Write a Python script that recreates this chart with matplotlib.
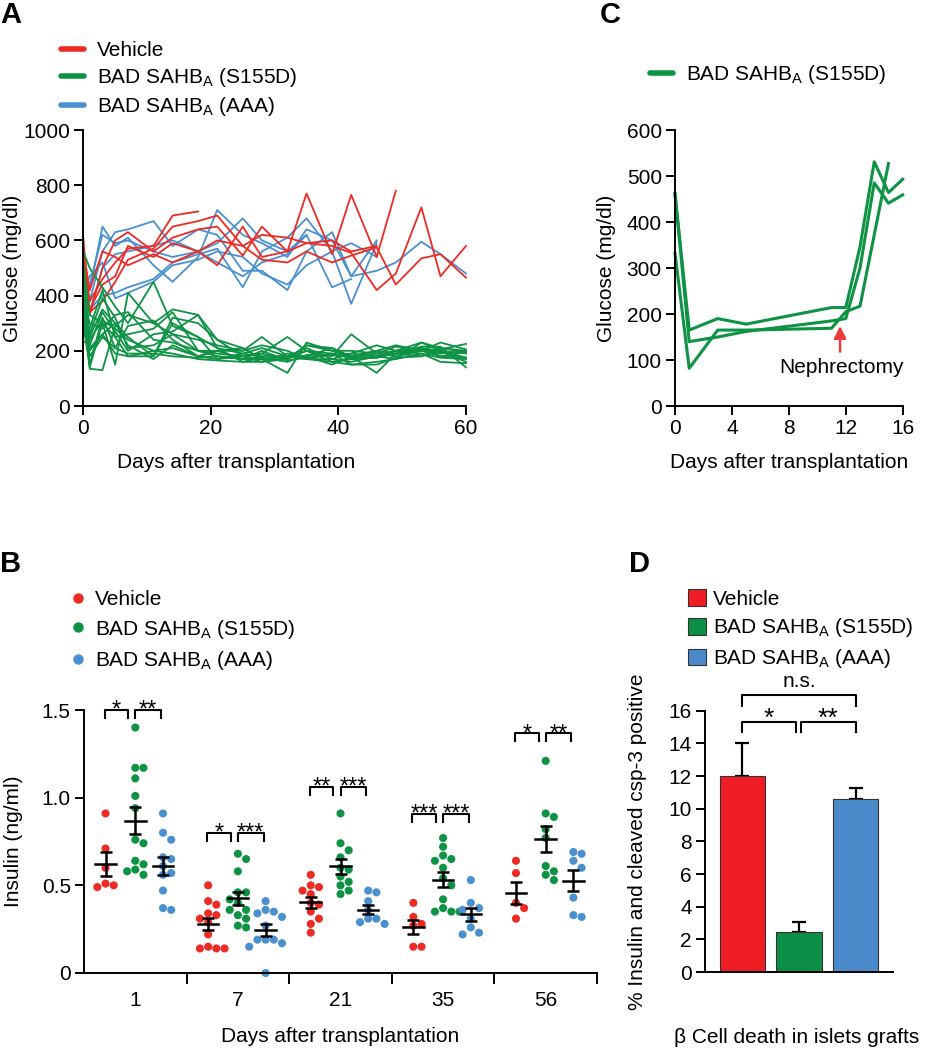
import numpy as np
import matplotlib
matplotlib.use("Agg")
import matplotlib.pyplot as plt
from matplotlib.lines import Line2D
from matplotlib.patches import Patch

plt.rcParams['font.family'] = ['Liberation Sans', 'DejaVu Sans']
plt.rcParams['mathtext.fontset'] = 'custom'
plt.rcParams['mathtext.rm'] = 'Liberation Sans'
FS = 15
plt.rcParams['font.size'] = FS

# ---- data ----
LABELS = ['Vehicle', r'BAD SAHB$_\mathregular{A}$ (S155D)', r'BAD SAHB$_\mathregular{A}$ (AAA)']
LINE_COLORS = ['#EE2A24', '#0E9345', '#4A90D0']
BAR_COLORS = ['#EE1D24', '#0B8E45', '#4A8ACB']

# panel A: glucose per mouse (days after transplant)
DAYS_A = [0, 1, 3, 5, 7, 11, 14, 18, 21, 25, 28, 32, 35, 39, 42, 46, 49, 53, 56, 60]
VEHICLE_A = [
    [560, 380, 460, 520, 570, 580, 690, 705],
    [610, 330, 500, 600, 630, 560, 610, 640, 650, 545, 650, 560, 770, 550, 765, 540, 780],
    [565, 420, 560, 540, 510, 550, 520, 560, 510, 650, 540, 560, 590, 580, 555, 420, 480, 720, 470, 580],
    [500, 350, 440, 470, 580, 540, 590, 560, 600, 580, 530, 520, 560, 520, 545, 575, 440, 535, 550, 465],
    [430, 340, 380, 450, 530, 570, 650, 670, 690, 580, 620, 610, 590, 600, 560, 580],
]
AAA_A = [
    [400, 420, 650, 580, 610, 510, 450, 540, 710, 620, 590, 540, 640, 600, 470, 600],
    [450, 380, 560, 630, 640, 670, 580, 640, 620, 490, 490, 420, 560, 630, 470, 490, 520, 595, 550, 480],
    [400, 350, 400, 410, 430, 460, 520, 550, 570, 430, 560, 610, 680, 560, 370, 590],
    [380, 440, 620, 590, 600, 560, 540, 560, 590, 680, 600, 560, 620, 430, 460],
    [360, 340, 500, 550, 560, 580, 600, 560, 520, 470, 520, 550, 620],
    [420, 470, 520, 390, 410, 450, 510, 530, 560, 540, 480, 440, 510, 560, 590, 540],
]
S155D_A = [
    [560, 500, 430, 360, 300, 450, 290, 250, 210, 190, 180, 175, 200, 190, 180, 175, 190, 210, 200, 190],
    [300, 140, 300, 150, 410, 300, 260, 240, 220, 200, 250, 180, 210, 170, 190, 180, 170, 230, 200, 175],
    [450, 135, 130, 290, 330, 300, 350, 330, 240, 210, 170, 120, 230, 200, 180, 120, 190, 215, 215, 140],
    [250, 280, 420, 250, 180, 180, 320, 300, 240, 180, 190, 250, 200, 180, 260, 190, 200, 200, 230, 205],
    [380, 200, 260, 300, 220, 170, 220, 180, 200, 170, 170, 180, 170, 160, 150, 160, 170, 190, 160, 155],
    [330, 150, 320, 210, 290, 310, 240, 180, 200, 200, 220, 200, 170, 190, 150, 150, 175, 180, 200, 160],
    [490, 220, 340, 270, 200, 260, 270, 330, 210, 160, 160, 170, 220, 200, 200, 190, 180, 200, 205, 225],
    [275, 250, 350, 300, 250, 180, 300, 250, 170, 190, 210, 180, 180, 150, 180, 200, 220, 200, 180, 175],
    [400, 300, 280, 330, 340, 240, 230, 200, 190, 180, 160, 190, 180, 210, 170, 175, 200, 230, 210, 195],
    [350, 180, 250, 210, 190, 190, 180, 175, 180, 170, 200, 165, 175, 185, 190, 220, 200, 190, 175, 170],
    [520, 330, 300, 250, 260, 280, 340, 200, 200, 210, 170, 170, 220, 210, 180, 200, 190, 200, 190, 200],
    [300, 210, 260, 190, 180, 200, 210, 180, 170, 180, 190, 170, 200, 160, 170, 180, 200, 210, 180, 195],
    [470, 260, 390, 320, 210, 220, 260, 200, 180, 170, 180, 180, 170, 170, 160, 180, 190, 180, 210, 200],
    [230, 240, 310, 280, 240, 200, 190, 170, 165, 160, 175, 160, 185, 185, 175, 190, 215, 205, 195, 175],
]

# panel C: glucose, nephrectomy at day ~12
DAYS_C = [0, 1, 3, 5, 11, 12, 13, 14, 15, 16]
DAYS_C3 = [0, 1, 3, 5, 11, 12, 13, 15]
GLU_C = [
    [461, 165, 190, 178, 214, 214, 346, 531, 464, 493],
    [461, 140, 150, 162, 185, 190, 300, 485, 441, 459],
]
GLU_C3 = [332, 82, 165, 165, 169, 205, 217, 527]

# panel B: insulin (ng/ml) per day
DAYS_B = ['1', '7', '21', '35', '56']
INS_VEH = [
    [0.91, 0.71, 0.60, 0.51, 0.50, 0.49],
    [0.50, 0.41, 0.39, 0.34, 0.33, 0.31, 0.29, 0.22, 0.15, 0.14, 0.14, 0.14],
    [0.56, 0.50, 0.49, 0.47, 0.45, 0.40, 0.39, 0.35, 0.31, 0.28, 0.23],
    [0.40, 0.32, 0.28, 0.27, 0.15, 0.15],
    [0.64, 0.57, 0.40, 0.37, 0.31],
]
INS_S155D = [
    [1.40, 1.17, 1.17, 1.11, 1.01, 0.94, 0.76, 0.74, 0.64, 0.62, 0.59, 0.58, 0.56],
    [0.68, 0.65, 0.58, 0.46, 0.46, 0.42, 0.40, 0.36, 0.36, 0.33, 0.31, 0.27, 0.26],
    [0.91, 0.74, 0.70, 0.66, 0.60, 0.59, 0.55, 0.52, 0.50, 0.47, 0.45],
    [0.77, 0.72, 0.67, 0.65, 0.64, 0.60, 0.54, 0.50, 0.42, 0.37, 0.35, 0.35, 0.35],
    [1.21, 0.91, 0.89, 0.82, 0.77, 0.61, 0.58, 0.56, 0.53],
]
INS_AAA = [
    [0.91, 0.80, 0.76, 0.66, 0.65, 0.61, 0.57, 0.56, 0.47, 0.37, 0.36],
    [0.41, 0.36, 0.35, 0.34, 0.32, 0.27, 0.19, 0.19, 0.19, 0.17, 0.15, 0.0],
    [0.47, 0.46, 0.41, 0.36, 0.31, 0.31, 0.29, 0.28],
    [0.53, 0.40, 0.37, 0.36, 0.31, 0.26, 0.23, 0.22],
    [0.69, 0.68, 0.64, 0.60, 0.43, 0.33, 0.32],
]
SIG_B = [('*', '**'), ('*', '***'), ('**', '***'), ('***', '***'), ('*', '**')]
SIG_B_HEIGHT = [1.50, 0.80, 1.063, 0.907, 1.367]

# panel D: % insulin+ cleaved csp-3+
D_MEAN = [12.0, 2.45, 10.6]
D_SEM = [2.0, 0.6, 0.65]

W, H = 926, 1050
fig = plt.figure(figsize=(W / 100, H / 100), dpi=100)


def rect(l, t, r, b):
    return [l / W, 1 - b / H, (r - l) / W, (b - t) / H]


def style(ax):
    for s in ['top', 'right']:
        ax.spines[s].set_visible(False)
    for s in ['left', 'bottom']:
        ax.spines[s].set_linewidth(1.4)
    ax.tick_params(direction='out', length=6.5, width=1.4, labelsize=FS, pad=3)


def swarm(vals, ppx, ppy, d=8.2):
    # simple beeswarm offsets (in data units of x)
    vals = np.asarray(vals, dtype=float)
    offs = np.zeros(len(vals))
    placed = []
    cands = [0.0]
    for k in range(1, 30):
        cands += [k * d * 0.5, -k * d * 0.5]
    for i in np.argsort(-vals):
        y = vals[i] * ppy
        for c in cands:
            if all((c - px) ** 2 + (y - py) ** 2 >= d * d for px, py in placed):
                break
        placed.append((c, y))
        offs[i] = c / ppx
    return offs


def legend(ax, handles, labels, x, y, **kw):
    opts = dict(loc='upper left', bbox_to_anchor=(x / W, 1 - y / H),
                bbox_transform=fig.transFigure, frameon=False, fontsize=FS,
                borderpad=0, borderaxespad=0)
    opts.update(kw)
    ax.legend(handles, labels, **opts)


# ---------- panel A ----------
axA = fig.add_axes(rect(83.3, 130, 466, 406))
style(axA)
for series, col in [(AAA_A, LINE_COLORS[2]), (VEHICLE_A, LINE_COLORS[0]), (S155D_A, LINE_COLORS[1])]:
    for v in series:
        axA.plot(DAYS_A[:len(v)], v, color=col, lw=1.3, clip_on=False)
axA.set_xlim(0, 60)
axA.set_ylim(0, 1000)
axA.set_xticks([0, 20, 40, 60])
axA.set_yticks(range(0, 1001, 200))
axA.set_ylabel('Glucose (mg/dl)')
axA.yaxis.set_label_coords(-0.16, 0.5)
axA.set_xlabel('Days after transplantation')
axA.xaxis.set_label_coords(0.40, -0.17)
hA = [Line2D([], [], color=c, lw=4, solid_capstyle='round') for c in LINE_COLORS]
legend(axA, hA, LABELS, 61, 41, handlelength=1.1, handletextpad=0.62, labelspacing=0.3)

# ---------- panel C ----------
axC = fig.add_axes(rect(675, 130, 902.7, 406))
style(axC)
for v in GLU_C:
    axC.plot(DAYS_C, v, color=LINE_COLORS[1], lw=2.2, clip_on=False)
axC.plot(DAYS_C3, GLU_C3, color=LINE_COLORS[1], lw=2.2, clip_on=False)
axC.set_xlim(0, 16)
axC.set_ylim(0, 600)
axC.set_xticks(range(0, 17, 4))
axC.set_yticks(range(0, 601, 100))
axC.set_ylabel('Glucose (mg/dl)')
axC.yaxis.set_label_coords(-0.26, 0.5)
axC.set_xlabel('Days after transplantation')
axC.xaxis.set_label_coords(0.5, -0.17)
axC.annotate('', xy=(11.6, 180), xytext=(11.6, 112),
             arrowprops=dict(arrowstyle='-|>', color='#EE3B3B', lw=1.8, mutation_scale=18))
axC.text(11.7, 84, 'Nephrectomy', ha='center', va='center')
hC = [Line2D([], [], color=LINE_COLORS[1], lw=4, solid_capstyle='round')]
legend(axC, hC, LABELS[1:2], 650, 63, handlelength=1.1, handletextpad=0.62)

# ---------- panel B ----------
axB = fig.add_axes(rect(84, 710, 597, 973))
style(axB)
ppx, ppy = 102.6, 263 / 1.5
offsets = [-0.29, 0.0, 0.27]
for g, data in enumerate([INS_VEH, INS_S155D, INS_AAA]):
    for i, vals in enumerate(data):
        xc = i + offsets[g]
        xs = xc + swarm(vals, ppx, ppy)
        axB.scatter(xs, vals, s=34, color=LINE_COLORS[g], edgecolors='none', zorder=2, clip_on=False)
        m = np.mean(vals)
        sem = np.std(vals, ddof=1) / np.sqrt(len(vals))
        axB.errorbar(xc, m, yerr=sem, fmt='none', ecolor='black', elinewidth=1.8,
                     capsize=4, capthick=1.8, zorder=3)
        axB.plot([xc - 0.1, xc + 0.1], [m, m], color='black', lw=1.8, zorder=3)
for i, (s1, s2) in enumerate(SIG_B):
    h = SIG_B_HEIGHT[i]
    dh = 0.045
    for (a, b), s in [((i - 0.30, i - 0.07), s1), ((i + 0.0, i + 0.25), s2)]:
        axB.plot([a, a, b, b], [h - dh, h, h, h - dh], color='black', lw=1.5, clip_on=False)
        axB.text((a + b) / 2, h - 0.04, s, ha='center', va='baseline', fontsize=17)
axB.set_xlim(-0.5, 4.5)
axB.set_ylim(0, 1.5)
axB.set_yticks([0, 0.5, 1.0, 1.5])
axB.set_yticklabels(['0', '0.5', '1.0', '1.5'])
axB.set_xticks([0.5, 1.5, 2.5, 3.5, 4.5])
axB.set_xticklabels([])
axB.tick_params(axis='x', length=8)
axB.set_xticks(range(5), minor=True)
axB.set_xticklabels(DAYS_B, minor=True)
axB.tick_params(axis='x', which='minor', length=0, pad=13, labelsize=FS)
axB.set_ylabel('Insulin (ng/ml)')
axB.yaxis.set_label_coords(-0.119, 0.5)
axB.set_xlabel('Days after transplantation')
axB.xaxis.set_label_coords(0.5, -0.205)
hB = [Line2D([], [], color=c, marker='o', ls='none', markersize=6.5) for c in LINE_COLORS]
legend(axB, hB, LABELS, 72, 590, handlelength=0.55, handletextpad=0.55, labelspacing=0.42)

# ---------- panel D ----------
axD = fig.add_axes(rect(705, 710.7, 893, 972))
style(axD)
xD = np.arange(3)
axD.bar(xD, D_MEAN, width=0.79, color=BAR_COLORS, edgecolor='#333333', linewidth=0.8, zorder=2)
axD.errorbar(xD, D_MEAN, yerr=[np.zeros(3), D_SEM], fmt='none', ecolor='black',
             elinewidth=1.6, capsize=5, capthick=1.6, zorder=1)
h, dh = 15.33, 0.65
for (a, b), s in [((0, 0.95), '*'), ((1.03, 2.0), '**')]:
    axD.plot([a, a, b, b], [h - dh, h, h, h - dh], color='black', lw=1.5, clip_on=False)
    axD.text((a + b) / 2, 15.08, s, ha='center', va='baseline', fontsize=19)
h2 = 16.96
axD.plot([0, 0, 2, 2], [h2 - dh, h2, h2, h2 - dh], color='black', lw=1.5, clip_on=False)
axD.text(1, 17.45, 'n.s.', ha='center', va='baseline')
axD.set_xlim(-0.65, 2.65)
axD.set_ylim(0, 16)
axD.set_yticks(range(0, 17, 2))
axD.set_xticks([])
axD.set_ylabel('% Insulin and cleaved csp-3 positive')
axD.yaxis.set_label_coords(-0.31, 0.5)
axD.set_xlabel('β Cell death in islets grafts')
axD.xaxis.set_label_coords(0.49, -0.214)
hD = [Patch(facecolor=c, edgecolor='#333333', linewidth=0.8) for c in BAR_COLORS]
legend(axD, hD, LABELS, 688, 589, handlelength=0.85, handleheight=0.85,
       handletextpad=0.34, labelspacing=0.38)

# panel letters
for x, y, s in [(0, 1, 'A'), (600, 1, 'C'), (0, 550, 'B'), (629, 550, 'D')]:
    fig.text(x / W, 1 - y / H, s, fontsize=21, fontweight='bold', ha='left', va='top')

fig.savefig('out.png', dpi=100)
